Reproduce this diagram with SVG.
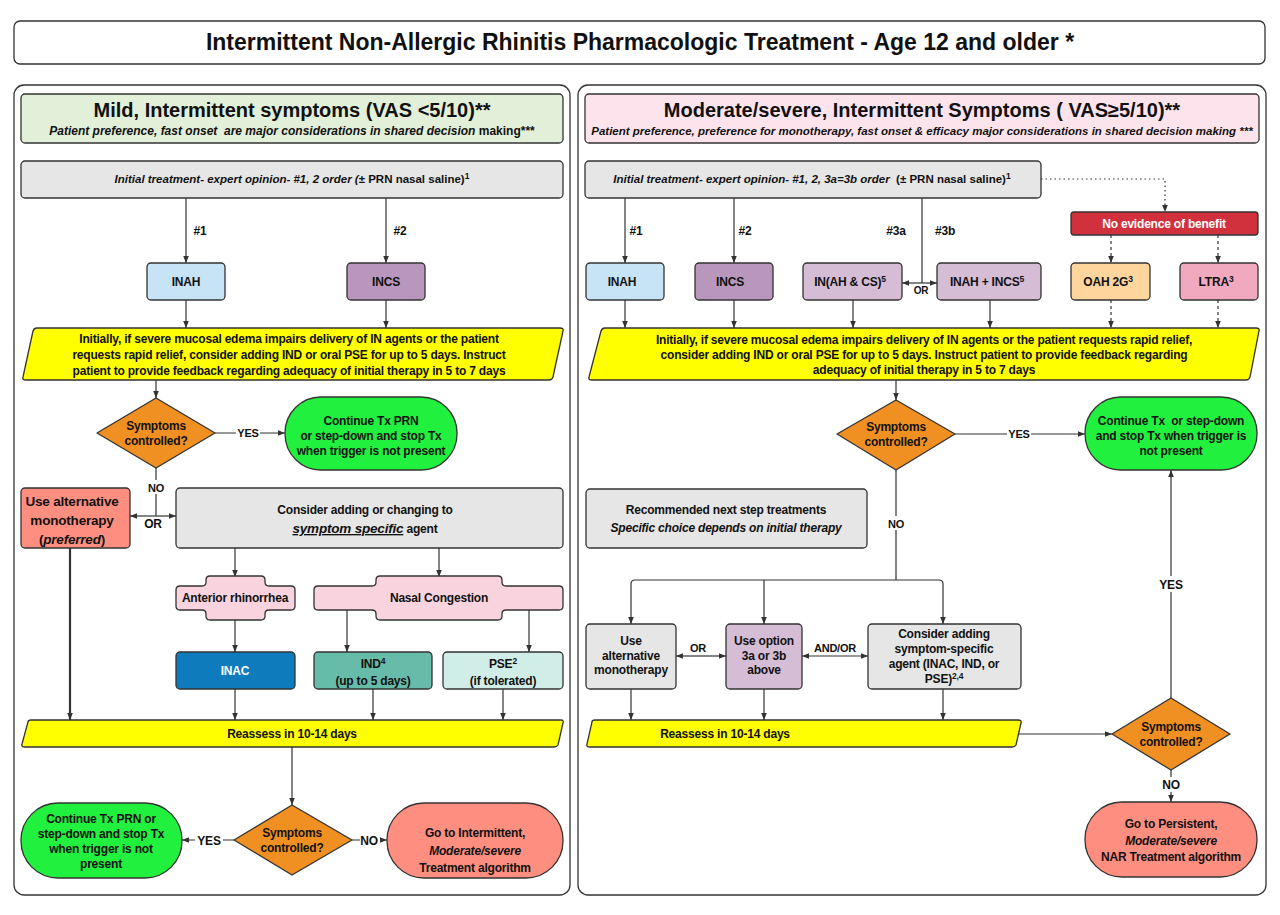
<svg xmlns="http://www.w3.org/2000/svg" width="1280" height="915" viewBox="0 0 1280 915">
<defs>
<marker id="ah" viewBox="0 0 10 10" refX="10" refY="5" markerWidth="7" markerHeight="7" orient="auto-start-reverse" markerUnits="userSpaceOnUse"><path d="M0,1 L10,5 L0,9 z" fill="#333"/></marker>
<style>
text{font-family:"Liberation Sans",Arial,sans-serif;font-weight:bold;fill:#111;text-anchor:middle;font-size:12px;letter-spacing:-0.2px}
.b{stroke:#333;stroke-width:1.3}
.c{stroke:#333;stroke-width:1.2;fill:none}
.ar{marker-end:url(#ah)}
.gray{fill:#e6e6e6}
.yel{fill:#ffff00}
.dia{fill:#f09023}
.grn{fill:#22f03e}
.sal{fill:#fe8f80}
.lav{fill:#d5bdd6}
.pink{fill:#f9d4df}
.it{font-style:italic}
.lbl{font-size:12px}
.sup{font-size:8.5px}
.ns{letter-spacing:0}
</style>
</defs>
<rect width="1280" height="915" fill="#fff"/>

<g id="title"><rect x="14" y="21" width="1251" height="43" rx="6" fill="#fff" class="b"/>
<text x="640" y="50" class="ns" style="font-size:23px">Intermittent Non-Allergic Rhinitis Pharmacologic Treatment - Age 12 and older *</text></g>

<g id="panel-left"><rect x="14" y="85" width="556" height="810" rx="10" fill="#fff" class="b"/></g>
<g id="panel-right"><rect x="578" y="85" width="688" height="810" rx="10" fill="#fff" class="b"/></g>

<g id="hdr-left"><rect x="21" y="94" width="542" height="49" rx="4" fill="#e2f0d9" class="b"/>
<text x="292" y="117" class="ns" style="font-size:20px">Mild, Intermittent symptoms (VAS &lt;5/10)**</text>
<text x="292" y="135" class="ns" style="font-size:12px"><tspan class="it">Patient preference, fast onset&#160; are major considerations in shared decision</tspan> making***</text></g>

<g id="hdr-right"><rect x="585" y="94" width="674" height="49" rx="4" fill="#fde4ec" class="b"/>
<text x="922" y="117" class="ns" style="font-size:20px">Moderate/severe, Intermittent Symptoms ( VAS≥5/10)**</text>
<text x="922" y="135" class="it ns" style="font-size:11.5px">Patient preference, preference for monotherapy, fast onset &amp; efficacy major considerations in shared decision making ***</text></g>

<g id="connectors">
<line x1="186" y1="198" x2="186" y2="263" class="c ar"/>
<line x1="386" y1="198" x2="386" y2="263" class="c ar"/>
<line x1="186" y1="300" x2="186" y2="328" class="c ar"/>
<line x1="386" y1="300" x2="386" y2="328" class="c ar"/>
<line x1="156" y1="380" x2="156" y2="398" class="c ar"/>
<line x1="215" y1="433" x2="285" y2="433" class="c ar"/>
<line x1="156" y1="468" x2="156" y2="516" class="c"/>
<line x1="156" y1="516" x2="130" y2="516" class="c ar"/>
<line x1="156" y1="516" x2="176" y2="516" class="c ar"/>
<line x1="70" y1="548" x2="70" y2="720" class="c ar" style="stroke-width:2.2"/>
<line x1="235" y1="548" x2="235" y2="577" class="c ar"/>
<line x1="439" y1="548" x2="439" y2="577" class="c ar"/>
<line x1="235" y1="620" x2="235" y2="652" class="c ar"/>
<line x1="347" y1="610" x2="347" y2="652" class="c ar"/>
<line x1="529" y1="610" x2="529" y2="652" class="c ar"/>
<line x1="235" y1="689" x2="235" y2="720" class="c ar"/>
<line x1="373" y1="689" x2="373" y2="720" class="c ar"/>
<line x1="503" y1="689" x2="503" y2="720" class="c ar"/>
<line x1="292" y1="747" x2="292" y2="805" class="c ar"/>
<line x1="234" y1="840" x2="182" y2="840" class="c ar"/>
<line x1="352" y1="840" x2="387" y2="840" class="c ar"/>
<line x1="625" y1="198" x2="625" y2="263" class="c ar"/>
<line x1="734" y1="198" x2="734" y2="263" class="c ar"/>
<line x1="922" y1="198" x2="922" y2="283" class="c"/>
<line x1="922" y1="283" x2="902" y2="283" class="c ar"/>
<line x1="922" y1="283" x2="937" y2="283" class="c ar"/>
<path d="M1041,179 H1165 V212" class="c ar" style="stroke-dasharray:1.5,3"/>
<line x1="1111" y1="235" x2="1111" y2="263" class="c ar" style="stroke-dasharray:3,3"/>
<line x1="1218" y1="235" x2="1218" y2="263" class="c ar" style="stroke-dasharray:3,3"/>
<line x1="625" y1="300" x2="625" y2="328" class="c ar"/>
<line x1="734" y1="300" x2="734" y2="328" class="c ar"/>
<line x1="853" y1="300" x2="853" y2="328" class="c ar"/>
<line x1="990" y1="300" x2="990" y2="328" class="c ar"/>
<line x1="1111" y1="300" x2="1111" y2="328" class="c ar" style="stroke-dasharray:3,3"/>
<line x1="1218" y1="300" x2="1218" y2="328" class="c ar" style="stroke-dasharray:3,3"/>
<line x1="896" y1="380" x2="896" y2="400" class="c ar"/>
<line x1="955" y1="434" x2="1085" y2="434" class="c ar"/>
<line x1="896" y1="470" x2="896" y2="580" class="c"/>
<path d="M631,624 V584 Q631,580 635,580 H939 Q943,580 943,584 V624" class="c ar" style="marker-start:url(#ah)"/>
<line x1="764" y1="580" x2="764" y2="624" class="c ar"/>
<line x1="699" y1="656" x2="676" y2="656" class="c ar"/>
<line x1="699" y1="656" x2="726" y2="656" class="c ar"/>
<line x1="835" y1="656" x2="802" y2="656" class="c ar"/>
<line x1="835" y1="656" x2="868" y2="656" class="c ar"/>
<line x1="631" y1="689" x2="631" y2="720" class="c ar"/>
<line x1="764" y1="689" x2="764" y2="720" class="c ar"/>
<line x1="943" y1="689" x2="943" y2="720" class="c ar"/>
<line x1="1018" y1="734" x2="1112" y2="734" class="c ar"/>
<line x1="1171" y1="698" x2="1171" y2="470" class="c ar"/>
<line x1="1171" y1="770" x2="1171" y2="802" class="c ar"/>
</g>

<g id="labels">
<rect x="146" y="480" width="20" height="14" fill="#fff"/>
<text x="156" y="492" class="lbl" style="font-size:11px">NO</text>
<text x="153" y="528" class="lbl">OR</text>
<rect x="236" y="426" width="24" height="14" fill="#fff"/>
<text x="248" y="437" class="lbl" style="font-size:11px">YES</text>
<text x="200" y="235" class="lbl">#1</text>
<text x="400" y="235" class="lbl">#2</text>
<rect x="195" y="833" width="28" height="14" fill="#fff"/>
<text x="209" y="845" class="lbl">YES</text>
<rect x="360" y="833" width="20" height="14" fill="#fff"/>
<text x="369" y="845" class="lbl">NO</text>
<text x="636" y="235" class="lbl">#1</text>
<text x="745" y="235" class="lbl">#2</text>
<text x="896" y="235" class="lbl">#3a</text>
<text x="945" y="235" class="lbl">#3b</text>
<text x="921" y="294" class="lbl" style="font-size:10px">OR</text>
<rect x="1007" y="427" width="24" height="14" fill="#fff"/>
<text x="1019" y="438" class="lbl" style="font-size:11px">YES</text>
<rect x="885" y="516" width="22" height="14" fill="#fff"/>
<text x="896" y="528" class="lbl" style="font-size:11px">NO</text>
<text x="698" y="652" class="lbl" style="font-size:11px">OR</text>
<text x="835" y="652" class="lbl" style="font-size:11px">AND/OR</text>
<rect x="1157" y="576" width="28" height="16" fill="#fff"/>
<text x="1171" y="589" class="lbl">YES</text>
<rect x="1160" y="777" width="22" height="15" fill="#fff"/>
<text x="1171" y="789" class="lbl">NO</text>
</g>

<g id="init-left"><rect x="21" y="161" width="542" height="37" rx="4" class="gray b"/>
<text x="292" y="183" class="ns" style="font-size:11.5px"><tspan class="it">Initial treatment- expert opinion- #1, 2 order (</tspan>± PRN nasal saline)<tspan class="sup" dy="-4">1</tspan></text></g>
<g id="inah-left"><rect x="147" y="263" width="78" height="37" rx="4" fill="#c7e4f6" class="b"/><text x="186" y="286">INAH</text></g>
<g id="incs-left"><rect x="347" y="263" width="78" height="37" rx="4" fill="#b996bb" class="b"/><text x="386" y="286">INCS</text></g>
<g id="edema-left"><path d="M33,331 Q34,328 37,328 H560 Q564,328 563,331 L553,377 Q552,380 549,380 H26 Q22,380 23,377 Z" class="yel b"/>
<text x="289" y="343">Initially, if severe mucosal edema impairs delivery of IN agents or the patient</text>
<text x="289" y="359">requests rapid relief, consider adding IND or oral PSE for up to 5 days. Instruct</text>
<text x="289" y="375">patient to provide feedback regarding adequacy of initial therapy in 5 to 7 days</text></g>
<g id="dia1-left"><polygon points="156,398 215,433 156,468 97,433" class="dia b" stroke-linejoin="round"/>
<text x="156" y="430">Symptoms</text><text x="156" y="445">controlled?</text></g>
<g id="cont1-left"><rect x="285" y="397" width="172" height="73" rx="36" class="grn b"/>
<text x="371" y="425">Continue Tx PRN</text><text x="371" y="440">or step-down and stop Tx</text><text x="371" y="455">when trigger is not present</text></g>
<g id="alt-left"><rect x="21" y="488" width="109" height="60" rx="4" class="sal b"/>
<text x="72" y="506" style="font-size:13.5px">Use alternative</text><text x="72" y="525" style="font-size:13.5px">monotherapy</text><text x="72" y="544" style="font-size:13.5px">(<tspan class="it">preferred</tspan>)</text></g>
<g id="consider-left"><rect x="176" y="488" width="387" height="60" rx="4" class="gray b"/>
<text x="365" y="514">Consider adding or changing to</text>
<text x="365" y="533"><tspan class="it" text-decoration="underline" style="font-size:13.5px">symptom specific</tspan> agent</text></g>
<g id="rhin-left"><path d="M206,580 Q206,576 210,576 H261 Q265,576 265,580 V582 Q265,586 269,586 H291 Q295,586 295,590 V606 Q295,610 291,610 H269 Q265,610 265,614 V616 Q265,620 261,620 H210 Q206,620 206,616 V614 Q206,610 202,610 H180 Q176,610 176,606 V590 Q176,586 180,586 H202 Q206,586 206,582 Z" class="pink b"/>
<text x="235" y="602">Anterior rhinorrhea</text></g>
<g id="cong-left"><path d="M376,580 Q376,576 380,576 H498 Q502,576 502,580 V582 Q502,586 506,586 H559 Q563,586 563,590 V606 Q563,610 559,610 H506 Q502,610 502,614 V616 Q502,620 498,620 H380 Q376,620 376,616 V614 Q376,610 372,610 H318 Q314,610 314,606 V590 Q314,586 318,586 H372 Q376,586 376,582 Z" class="pink b"/>
<text x="439" y="602">Nasal Congestion</text></g>
<g id="inac-left"><rect x="176" y="652" width="119" height="37" rx="4" fill="#0e7bbd" class="b"/><text x="235" y="675" style="fill:#fff">INAC</text></g>
<g id="ind-left"><rect x="314" y="652" width="118" height="37" rx="4" fill="#67bba9" class="b"/><text x="373" y="668">IND<tspan class="sup" dy="-4">4</tspan></text><text x="373" y="685">(up to 5 days)</text></g>
<g id="pse-left"><rect x="443" y="652" width="120" height="37" rx="4" fill="#d1ede7" class="b"/><text x="503" y="668">PSE<tspan class="sup" dy="-4">2</tspan></text><text x="503" y="685">(if tolerated)</text></g>
<g id="reassess-left"><path d="M28,722 Q28,720 31,720 H561 Q564,720 563,723 L558,745 Q557,747 554,747 H25 Q21,747 22,744 Z" class="yel b"/>
<text x="292" y="738">Reassess in 10-14 days</text></g>
<g id="dia2-left"><polygon points="292,805 352,840 292,875 234,840" class="dia b" stroke-linejoin="round"/>
<text x="292" y="837">Symptoms</text><text x="292" y="852">controlled?</text></g>
<g id="cont2-left"><rect x="21" y="803" width="161" height="75" rx="37" class="grn b"/>
<text x="101" y="823">Continue Tx PRN or</text><text x="101" y="838">step-down and stop Tx</text><text x="101" y="853">when trigger is not</text><text x="101" y="868">present</text></g>
<g id="goto-left"><rect x="387" y="803" width="176" height="75" rx="37" class="sal b"/>
<text x="475" y="837">Go to Intermittent,</text><text x="475" y="855" class="it">Moderate/severe</text><text x="475" y="872">Treatment algorithm</text></g>

<g id="init-right"><rect x="585" y="161" width="456" height="37" rx="4" class="gray b"/>
<text x="812" y="183" class="ns" style="font-size:11.5px"><tspan class="it">Initial treatment- expert opinion- #1, 2, 3a=3b order&#160;</tspan> (± PRN nasal saline)<tspan class="sup" dy="-4">1</tspan></text></g>
<g id="noevid"><rect x="1071" y="212" width="187" height="23" rx="3" fill="#d1313d" class="b"/><text x="1164" y="228" style="fill:#fff">No evidence of benefit</text></g>
<g id="inah-right"><rect x="586" y="263" width="78" height="37" rx="4" fill="#c7e4f6" class="b"/><text x="622" y="286">INAH</text></g>
<g id="incs-right"><rect x="695" y="263" width="78" height="37" rx="4" fill="#b996bb" class="b"/><text x="730" y="286">INCS</text></g>
<g id="inahcs-right"><rect x="803" y="263" width="99" height="37" rx="4" class="lav b"/><text x="850" y="286">IN(AH &amp; CS)<tspan class="sup" dy="-4">5</tspan></text></g>
<g id="inahincs-right"><rect x="937" y="263" width="104" height="37" rx="4" class="lav b"/><text x="987" y="286">INAH + INCS<tspan class="sup" dy="-4">5</tspan></text></g>
<g id="oah-right"><rect x="1071" y="263" width="79" height="37" rx="4" fill="#fdd59d" class="b"/><text x="1108" y="286">OAH 2G<tspan class="sup" dy="-4">3</tspan></text></g>
<g id="ltra-right"><rect x="1180" y="263" width="78" height="37" rx="4" fill="#f0a9bf" class="b"/><text x="1216" y="286">LTRA<tspan class="sup" dy="-4">3</tspan></text></g>
<g id="edema-right"><path d="M601,331 Q602,328 605,328 H1256 Q1260,328 1259,331 L1250,377 Q1249,380 1246,380 H592 Q588,380 589,377 Z" class="yel b"/>
<text x="924" y="344">Initially, if severe mucosal edema impairs delivery of IN agents or the patient requests rapid relief,</text>
<text x="924" y="359">consider adding IND or oral PSE for up to 5 days. Instruct patient to provide feedback regarding</text>
<text x="924" y="374">adequacy of initial therapy in 5 to 7 days</text></g>
<g id="dia1-right"><polygon points="896,400 955,434 896,470 837,434" class="dia b" stroke-linejoin="round"/>
<text x="896" y="431">Symptoms</text><text x="896" y="446">controlled?</text></g>
<g id="cont1-right"><rect x="1085" y="397" width="172" height="73" rx="36" class="grn b"/>
<text x="1171" y="425">Continue Tx&#160; or step-down</text><text x="1171" y="440">and stop Tx when trigger is</text><text x="1171" y="455">not present</text></g>
<g id="recom-right"><rect x="586" y="489" width="281" height="59" rx="4" class="gray b"/>
<text x="726" y="514">Recommended next step treatments</text><text x="726" y="532" class="it">Specific choice depends on initial therapy</text></g>
<g id="alt-right"><rect x="586" y="624" width="90" height="65" rx="4" class="gray b"/>
<text x="631" y="645">Use</text><text x="631" y="660">alternative</text><text x="631" y="674">monotherapy</text></g>
<g id="opt-right"><rect x="726" y="624" width="76" height="65" rx="4" class="lav b"/>
<text x="764" y="645">Use option</text><text x="764" y="660">3a or 3b</text><text x="764" y="674">above</text></g>
<g id="consider-right"><rect x="868" y="624" width="153" height="65" rx="4" class="gray b"/>
<text x="944" y="638">Consider adding</text><text x="944" y="653">symptom-specific</text><text x="944" y="668">agent (INAC, IND, or</text><text x="944" y="683">PSE)<tspan class="sup" dy="-4">2,4</tspan></text></g>
<g id="reassess-right"><path d="M592,722 Q592,720 595,720 H1018 Q1022,720 1021,723 L1016,745 Q1015,747 1012,747 H590 Q586,747 587,744 Z" class="yel b"/>
<text x="725" y="738">Reassess in 10-14 days</text></g>
<g id="dia2-right"><polygon points="1171,698 1230,734 1171,770 1112,734" class="dia b" stroke-linejoin="round"/>
<text x="1171" y="731">Symptoms</text><text x="1171" y="746">controlled?</text></g>
<g id="goto-right"><rect x="1085" y="802" width="172" height="75" rx="37" class="sal b"/>
<text x="1171" y="828">Go to Persistent,</text><text x="1171" y="845" class="it">Moderate/severe</text><text x="1171" y="861">NAR Treatment algorithm</text></g>
</svg>
